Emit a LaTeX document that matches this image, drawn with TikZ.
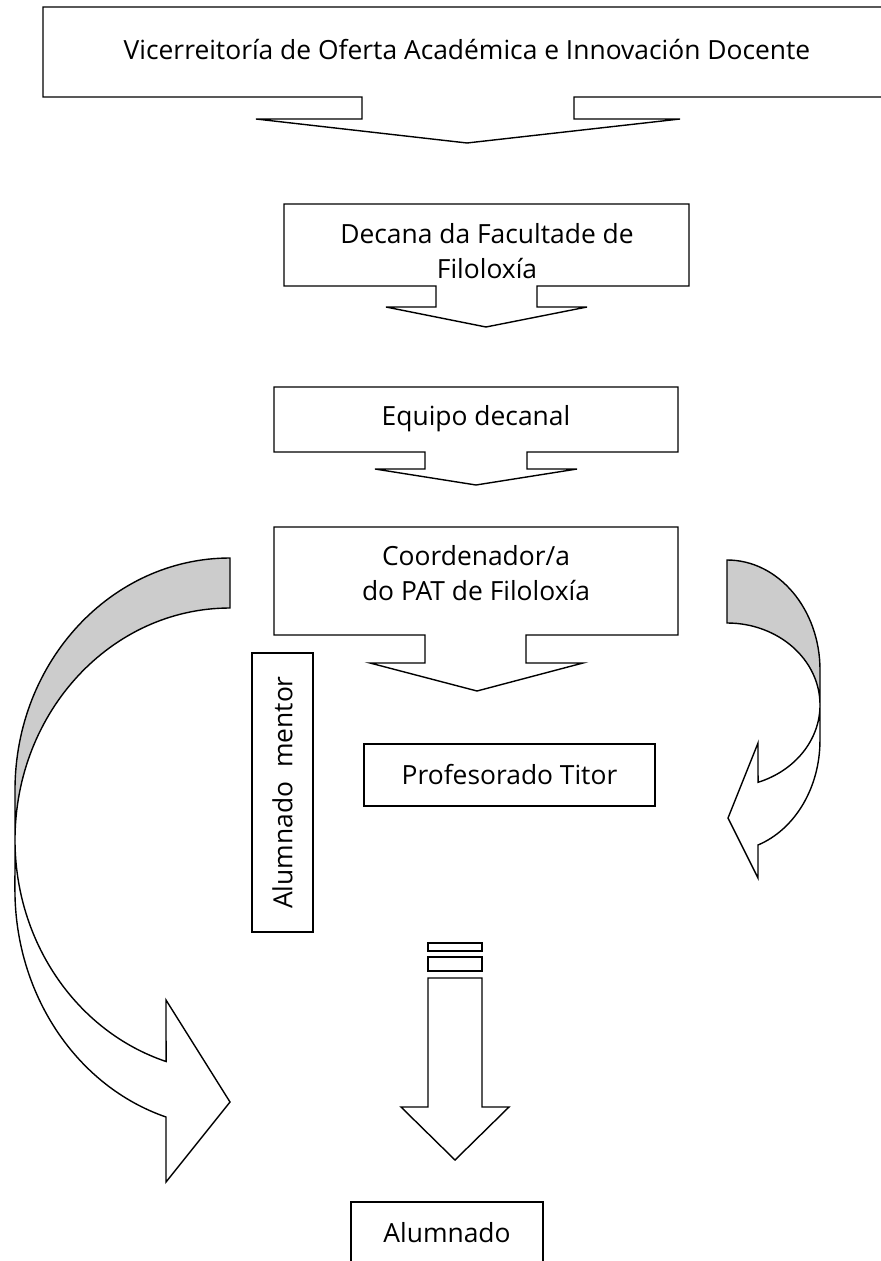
\documentclass[tikz,border=0pt]{standalone}
\usepackage{fontspec}
\setmainfont{Open Sans}
\definecolor{bandgray}{gray}{0.8}

\begin{document}
\begin{tikzpicture}[x=0.5pt, y=-0.5pt,
    blk/.style={draw, line width=0.7pt, fill=white, line join=miter},
    lbl/.style={inner sep=0pt, align=center, font=\fontsize{13.2}{17.5}\selectfont},
    box/.style={draw, line width=0.7pt, inner sep=0pt, font=\fontsize{13.2}{17.5}\selectfont}]
    \useasboundingbox (0,0) rectangle (881,1261);
    \clip (0,0) rectangle (881,1261);

    % callouts
    \draw[blk] (43,7) -- (893,7) -- (893,97) -- (574,97) -- (574,119) -- (680,119) -- (467,143)
        -- (256,119) -- (362,119) -- (362,97) -- (43,97) -- cycle;
    \draw[blk] (284,204) -- (689,204) -- (689,286) -- (537,286) -- (537,307) -- (587,307) -- (486,327)
        -- (386,307) -- (436,307) -- (436,286) -- (284,286) -- cycle;
    \draw[blk] (274,387) -- (678,387) -- (678,452) -- (527,452) -- (527,469) -- (577,469) -- (476,485)
        -- (375,469) -- (425,469) -- (425,452) -- (274,452) -- cycle;
    \draw[blk] (274,527) -- (678,527) -- (678,635) -- (526,635) -- (526,663) -- (583,663) -- (477,691)
        -- (370,663) -- (425,663) -- (425,635) -- (274,635) -- cycle;

    \node[lbl, anchor=base] (vice) at (467,60) {Vicerreitoría de Oferta Académica e Innovación Docente};
    \node[lbl] (decana) at (487,251) {Decana da Facultade de\\Filoloxía};
    \node[lbl, anchor=base] (equipo) at (476,425) {Equipo decanal};
    \node[lbl] (coord) at (476,573) {Coordenador/a\\do PAT de Filoloxía};

    % boxes
    \node[box, minimum width=145.5pt, minimum height=31pt] (titor) at (509.5,775) {Profesorado Titor};
    \node[box, rotate=90, minimum width=139.5pt, minimum height=30.5pt] (mentor) at (282.5,792.5)
        {Alumnado\ \ mentor};
    \node[box, minimum width=96pt, minimum height=31pt] (alumnado) at (447,1233) {Alumnado};

    % left curved arrow
    \draw[blk, fill=bandgray] (230,558) arc[start angle=270, end angle=180, x radius=215, y radius=232]
        -- (15,840) arc[start angle=180, end angle=270, x radius=215, y radius=232] -- cycle;
    \draw[blk] (15,840) arc[start angle=180, end angle=107.3, x radius=215, y radius=232]
        -- (166,1000) -- (230,1102) -- (166,1182) -- (166,1117)
        arc[start angle=107.3, end angle=180, x radius=215, y radius=238] -- cycle;

    % right curved arrow
    \draw[blk, fill=bandgray] (727,560) arc[start angle=270, end angle=360, x radius=93, y radius=110]
        -- (820,705) arc[start angle=0, end angle=-90, x radius=93, y radius=82] -- cycle;
    \draw[blk] (820,705) arc[start angle=0, end angle=70.5, x radius=93, y radius=82]
        -- (758,743) -- (728,818) -- (758,878) -- (758,845)
        arc[start angle=70.5, end angle=0, x radius=93, y radius=111] -- cycle;

    % striped arrow
    \draw[blk] (428,943) rectangle (482,951);
    \draw[blk] (428,957) rectangle (482,971);
    \draw[blk] (428,978) -- (482,978) -- (482,1107) -- (509,1107) -- (455,1160) -- (401,1107)
        -- (428,1107) -- cycle;
\end{tikzpicture}
\end{document}
